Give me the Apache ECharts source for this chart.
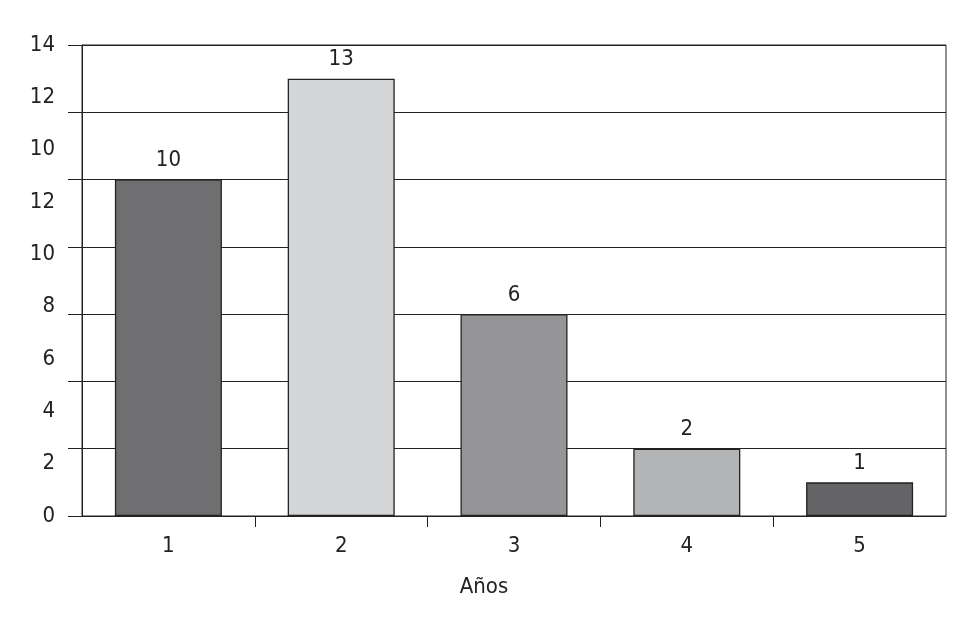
<!DOCTYPE html>
<html><head><meta charset="utf-8">
<script src="https://cdn.jsdelivr.net/npm/echarts@6/dist/echarts.min.js"></script>
<style>html,body{margin:0;padding:0;background:#fff}#c{width:979px;height:625px}</style>
</head><body><div id="c"></div>
<script>
const categories = ['1','2','3','4','5'];
const values = [10, 13, 6, 2, 1];
const barColors = ['#6f6f71','#d4d5d7','#959597','#b3b4b6','#646466'];
const yTickLabels = ['0','2','4','6','8','10','12','10','12','14'];
const xName = 'Años';
const FONT = "'Liberation Sans Narrow','DejaVu Sans Condensed',sans-serif";
const ink = '#222';
const boundaryTicks = categories.slice(1).map((c, i) => i + 1);

const chart = echarts.init(document.getElementById('c'));
chart.setOption({
  animation: false,
  backgroundColor: '#fff',
  grid: {left: 82, right: 33, top: 45, bottom: 109, show: true, borderColor: ink, borderWidth: 1, backgroundColor: 'transparent'},
  xAxis: [{
    type: 'category', data: categories,
    axisLine: {lineStyle: {color: ink, width: 1}},
    axisTick: {show: false},
    axisLabel: {color: ink, fontFamily: FONT, fontSize: 22, margin: 19},
    name: xName, nameLocation: 'middle', nameGap: 60,
    nameTextStyle: {color: ink, fontFamily: FONT, fontSize: 22, padding: [0, 60, 0, 0]}
  },{
    type: 'value', position: 'bottom', min: 0, max: categories.length,
    axisLine: {show: false}, axisLabel: {show: false}, splitLine: {show: false},
    axisTick: {show: true, length: 11, lineStyle: {color: ink}, customValues: boundaryTicks}
  }],
  yAxis: [{
    type: 'value', min: 0, max: 14, interval: 2,
    axisLine: {show: true, lineStyle: {color: ink}},
    axisTick: {show: true, length: 14, lineStyle: {color: ink}},
    axisLabel: {show: false},
    splitLine: {show: true, lineStyle: {color: ink, width: 1}}
  },{
    type: 'value', position: 'left', min: 0, max: 9, interval: 1,
    axisLine: {show: false}, axisTick: {show: false}, splitLine: {show: false},
    axisLabel: {color: ink, fontFamily: FONT, fontSize: 22, margin: 27,
      formatter: function(v){ return yTickLabels[Math.round(v)]; }}
  }],
  series: [{
    type: 'bar', xAxisIndex: 0, yAxisIndex: 0, barWidth: 107,
    data: values.map((v,i)=>({value: v, itemStyle: {color: barColors[i]}})),
    itemStyle: {borderColor: ink, borderWidth: 1.3},
    label: {show: true, position: 'top', distance: 8, color: ink, fontFamily: FONT, fontSize: 22}
  }]
});
</script></body></html>
